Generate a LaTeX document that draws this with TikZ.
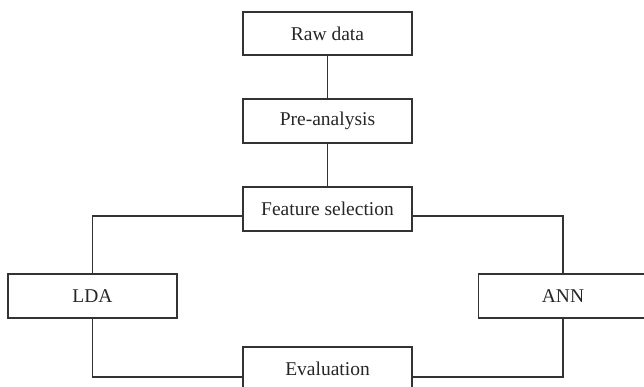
\documentclass[tikz,border=0pt]{standalone}
\usepackage{fontspec}
\setmainfont{Liberation Serif}
\begin{document}
\begin{tikzpicture}[x=1pt,y=-1pt,
  stepbox/.style={draw=black!80, line width=1.4pt, rectangle, minimum width=169pt, minimum height=44pt, inner sep=0pt, font=\fontsize{19.5}{23}\selectfont, text=black!85},
  link/.style={draw=black!80, line width=1.4pt}]
\useasboundingbox (0,0) rectangle (644,387);
\clip (0,0) rectangle (644,387);
\node[stepbox, minimum height=43pt] (raw) at (327.5,33.5) {Raw data};
\node[stepbox] (pre) at (327.5,121) {Pre-analysis};
\node[stepbox] (fs) at (327.5,209) {Feature selection};
\node[stepbox] (lda) at (92.5,296) {LDA};
\node[stepbox] (ann) at (563,296) {ANN};
\node[stepbox] (ev) at (327.5,369) {Evaluation};
\draw[link] (raw) -- (pre);
\draw[link] (pre) -- (fs);
\draw[link] ([yshift=-7pt]fs.west) -| (lda.north);
\draw[link] ([yshift=-7pt]fs.east) -| (ann.north);
\draw[link] (lda.south) |- ([yshift=-8pt]ev.west);
\draw[link] (ann.south) |- ([yshift=-8pt]ev.east);
\end{tikzpicture}
\end{document}
